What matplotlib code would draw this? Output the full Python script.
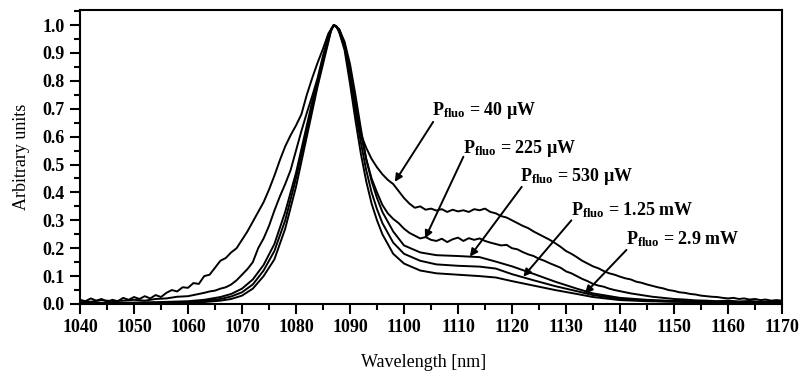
import matplotlib
matplotlib.use("Agg")
import matplotlib.pyplot as plt
from matplotlib.ticker import MultipleLocator

plt.rcParams['font.family'] = ['Liberation Serif', 'DejaVu Serif']
plt.rcParams['font.weight'] = 'bold'
plt.rcParams['axes.labelweight'] = 'normal'
plt.rcParams['mathtext.fontset'] = 'custom'
plt.rcParams['mathtext.rm'] = 'Liberation Serif:bold'
plt.rcParams['mathtext.it'] = 'Liberation Serif:italic:bold'
plt.rcParams['mathtext.bf'] = 'Liberation Serif:bold'

# ---- data ----
wl1 = list(range(1040, 1171))
v1 = [0.015, 0.01, 0.02, 0.012, 0.018, 0.008, 0.015, 0.01, 0.022, 0.015,
      0.025, 0.018, 0.028, 0.02, 0.032, 0.025, 0.04, 0.05, 0.045, 0.06,
      0.058, 0.075, 0.072, 0.1, 0.105, 0.13, 0.155, 0.165, 0.185, 0.2,
      0.23, 0.26, 0.295, 0.33, 0.365, 0.41, 0.46, 0.515, 0.565, 0.605,
      0.64, 0.68, 0.75, 0.81, 0.865, 0.915, 0.97, 1.0, 0.985, 0.93,
      0.82, 0.7, 0.61, 0.56, 0.52, 0.49, 0.465, 0.445, 0.43, 0.405,
      0.38, 0.36, 0.345, 0.35, 0.338, 0.342, 0.335, 0.34, 0.33, 0.338,
      0.332, 0.336, 0.33, 0.34, 0.336, 0.342, 0.33, 0.325, 0.315, 0.31,
      0.3, 0.29, 0.28, 0.272, 0.26, 0.25, 0.24, 0.23, 0.218, 0.205,
      0.19, 0.18, 0.168, 0.155, 0.145, 0.135, 0.128, 0.118, 0.11, 0.105,
      0.098, 0.092, 0.088, 0.08, 0.076, 0.07, 0.065, 0.06, 0.056, 0.05,
      0.047, 0.042, 0.04, 0.036, 0.034, 0.03, 0.028, 0.026, 0.025, 0.022,
      0.02, 0.022, 0.018, 0.02, 0.016, 0.018, 0.014, 0.016, 0.012, 0.014,
      0.012]

wl2 = [1040, 1042, 1044, 1046, 1048, 1050, 1052, 1054, 1056, 1058, 1060, 1062,
       1063, 1064, 1065, 1066, 1067, 1068, 1069, 1070, 1071, 1072, 1073, 1074,
       1075, 1076, 1077, 1078, 1079, 1080, 1081, 1082, 1083, 1084, 1085, 1086,
       1087, 1088, 1089, 1090, 1091, 1092, 1093, 1094, 1095, 1096, 1097, 1098,
       1099, 1100, 1101, 1102, 1103, 1104, 1105, 1106, 1107, 1108, 1109, 1110,
       1111, 1112, 1113, 1114, 1115, 1116, 1117, 1118, 1119, 1120, 1121, 1122,
       1123, 1124, 1125, 1126, 1127, 1128, 1129, 1130, 1131, 1132, 1133, 1134,
       1135, 1136, 1137, 1138, 1139, 1140, 1142, 1144, 1146, 1148, 1150, 1152,
       1154, 1156, 1158, 1160, 1162, 1164, 1166, 1168, 1170]
v2 = [0.012, 0.008, 0.014, 0.01, 0.012, 0.015, 0.012, 0.018, 0.02, 0.026, 0.028, 0.036,
      0.04, 0.045, 0.048, 0.055, 0.06, 0.07, 0.085, 0.105, 0.125, 0.15, 0.2, 0.235,
      0.28, 0.335, 0.385, 0.43, 0.48, 0.55, 0.62, 0.685, 0.745, 0.81, 0.89, 0.96,
      1.0, 0.985, 0.94, 0.86, 0.75, 0.63, 0.52, 0.45, 0.4, 0.355, 0.325, 0.305,
      0.29, 0.27, 0.255, 0.245, 0.235, 0.24, 0.23, 0.226, 0.234, 0.222, 0.232, 0.238,
      0.226, 0.236, 0.23, 0.235, 0.226, 0.22, 0.215, 0.21, 0.212, 0.2, 0.196, 0.186,
      0.178, 0.172, 0.162, 0.155, 0.146, 0.138, 0.13, 0.117, 0.11, 0.1, 0.09, 0.082,
      0.072, 0.066, 0.062, 0.055, 0.05, 0.046, 0.038, 0.032, 0.026, 0.022, 0.018, 0.016,
      0.013, 0.012, 0.01, 0.012, 0.009, 0.011, 0.008, 0.01, 0.009]

wl_s = [1040, 1045, 1050, 1055, 1060, 1063, 1066, 1068, 1070, 1072, 1074, 1076,
        1078, 1080, 1081, 1082, 1083, 1084, 1085, 1086, 1086.5, 1087, 1087.5, 1088, 1089, 1090,
        1091, 1092, 1093, 1094, 1095, 1096, 1098, 1100, 1103, 1106, 1110, 1114,
        1117, 1120, 1124, 1128, 1132, 1135, 1140, 1145, 1150, 1160, 1170]
v3 = [0.005, 0.004, 0.005, 0.007, 0.01, 0.015, 0.025, 0.036, 0.055, 0.088, 0.14, 0.215,
      0.33, 0.47, 0.555, 0.64, 0.725, 0.80, 0.88, 0.95, 0.985, 1.0, 0.995, 0.98, 0.93, 0.83,
      0.72, 0.61, 0.52, 0.44, 0.38, 0.33, 0.26, 0.21, 0.185, 0.175, 0.172, 0.168,
      0.152, 0.135, 0.108, 0.08, 0.055, 0.038, 0.022, 0.015, 0.011, 0.008, 0.006]
v4 = [0.004, 0.003, 0.004, 0.005, 0.007, 0.011, 0.018, 0.027, 0.042, 0.07, 0.12, 0.19,
      0.30, 0.45, 0.535, 0.62, 0.71, 0.79, 0.87, 0.945, 0.985, 1.0, 0.995, 0.975, 0.92, 0.81,
      0.69, 0.58, 0.48, 0.40, 0.34, 0.29, 0.22, 0.18, 0.155, 0.142, 0.137, 0.134,
      0.127, 0.107, 0.085, 0.064, 0.046, 0.032, 0.018, 0.012, 0.009, 0.006, 0.005]
v5 = [0.003, 0.002, 0.003, 0.003, 0.004, 0.007, 0.012, 0.018, 0.03, 0.055, 0.10, 0.16,
      0.27, 0.42, 0.51, 0.60, 0.69, 0.78, 0.86, 0.94, 0.98, 1.0, 0.995, 0.975, 0.91, 0.79,
      0.66, 0.54, 0.44, 0.36, 0.30, 0.25, 0.18, 0.145, 0.12, 0.11, 0.105, 0.10,
      0.095, 0.082, 0.066, 0.05, 0.036, 0.025, 0.014, 0.01, 0.008, 0.005, 0.004]

labels = ['40 µW', '225 µW', '530 µW', '1.25 mW', '2.9 mW']
label_xy = [(1105.1, 0.695), (1111.0, 0.559), (1121.5, 0.457), (1131.0, 0.335), (1141.2, 0.233)]
arrow_tip = [(1098.3, 0.438), (1103.9, 0.235), (1112.2, 0.17), (1122.1, 0.098), (1133.5, 0.038)]
arrow_tail = [(1105.4, 0.653), (1111.0, 0.528), (1121.8, 0.42), (1131.0, 0.30), (1141.2, 0.194)]

xticks = list(range(1040, 1171, 10))
yticks = [0.0, 0.1, 0.2, 0.3, 0.4, 0.5, 0.6, 0.7, 0.8, 0.9, 1.0]

# ---- figure ----
fig = plt.figure(figsize=(8.03, 3.78), dpi=100)
ax = fig.add_axes([80 / 803, 1 - 304 / 378, 702 / 803, 294 / 378])

lw = 1.4
ax.plot(wl1, v1, color='black', lw=lw)
ax.plot(wl2, v2, color='black', lw=lw)
ax.plot(wl_s, v3, color='black', lw=lw)
ax.plot(wl_s, v4, color='black', lw=lw)
ax.plot(wl_s, v5, color='black', lw=lw)

ax.set_xlim(1040, 1170)
ax.set_ylim(0, 1.054)
ax.set_xticks(xticks)
ax.set_yticks(yticks)
ax.set_yticklabels([f'{t:.1f}' for t in yticks])
ax.xaxis.set_minor_locator(MultipleLocator(5))
ax.yaxis.set_minor_locator(MultipleLocator(0.05))
ax.tick_params(which='major', direction='out', length=7, width=1.5, labelsize=13,
               top=False, right=False, pad=4)
ax.tick_params(which='minor', direction='out', length=4, width=1.5, top=False, right=False)
for s in ax.spines.values():
    s.set_linewidth(1.5)

ax.set_xlabel('Wavelength [nm]', fontsize=13)
ax.set_ylabel('Arbitrary units', fontsize=13)
ax.xaxis.set_label_coords(0.49, -0.17)
ax.yaxis.set_label_coords(-0.071, 0.5)

for lab, (tx, ty), tip, tail in zip(labels, label_xy, arrow_tip, arrow_tail):
    ax.text(tx, ty, r'P$_{\mathrm{fluo}}$ = ' + lab, fontsize=13, ha='left', va='center')
    ax.annotate('', xy=tip, xytext=tail,
                arrowprops=dict(arrowstyle='-|>', color='black', lw=1.4,
                                mutation_scale=11, shrinkA=0, shrinkB=0))

fig.savefig('out.png', dpi=100)
